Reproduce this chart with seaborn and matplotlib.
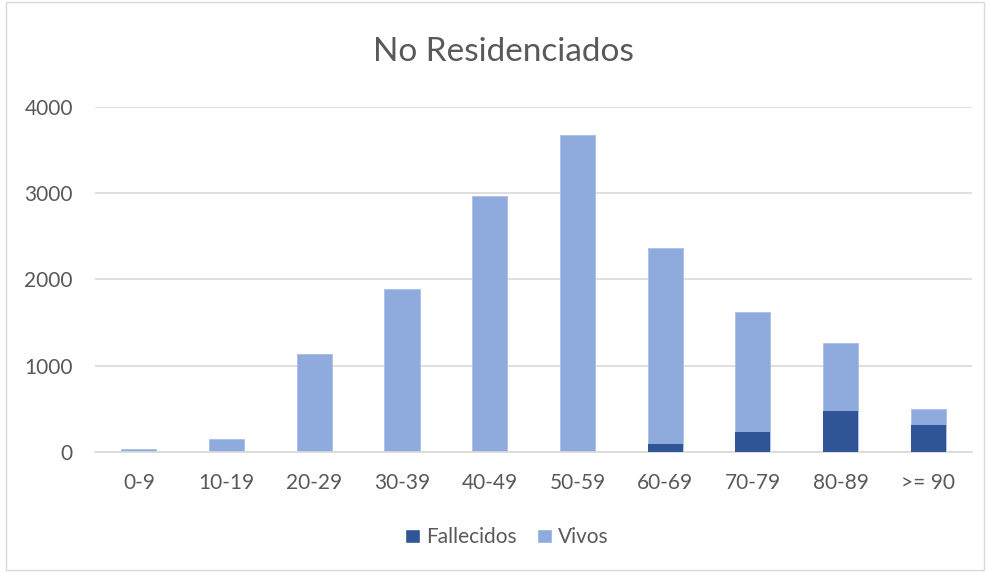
import numpy as np
import pandas as pd
import matplotlib.pyplot as plt
import seaborn as sns
from matplotlib.patches import Rectangle, Patch

# Data
grupos = ['0-9', '10-19', '20-29', '30-39', '40-49', '50-59', '60-69', '70-79', '80-89', '>= 90']
fallecidos = [0, 0, 0, 0, 0, 0, 86, 232, 476, 306]
vivos = [35, 144, 1137, 1887, 2966, 3670, 2274, 1385, 782, 193]

oscuro = '#2F5597'
claro = '#8FAADC'
gris = '#595959'

df = pd.DataFrame({'grupo': grupos, 'Fallecidos': fallecidos, 'Vivos': vivos})
df['total'] = df['Fallecidos'] + df['Vivos']

sns.set_style('white')
plt.rcParams['font.family'] = ['Lato', 'DejaVu Sans']

fig = plt.figure(figsize=(9.9, 5.72), dpi=100)
ax = fig.add_axes([0.096, 0.21, 0.886, 0.603])

# stacked: total (light) first, fallecidos (dark) drawn over the bottom part
sns.barplot(data=df, x='grupo', y='total', color=claro, width=0.4,
            saturation=1, ax=ax, zorder=2, linewidth=0.6, edgecolor='#A9BFE6')
sns.barplot(data=df, x='grupo', y='Fallecidos', color=oscuro, width=0.4,
            saturation=1, ax=ax, zorder=3, linewidth=0)

ax.set_ylim(0, 4000)
ax.set_yticks([0, 1000, 2000, 3000, 4000])
ax.grid(axis='y', color='#D9D9D9', linewidth=1.2, zorder=0)
ax.set_axisbelow(True)
for s in ['top', 'right', 'left']:
    ax.spines[s].set_visible(False)
ax.spines['bottom'].set_color('#D9D9D9')
ax.spines['bottom'].set_linewidth(1.2)
ax.tick_params(axis='both', length=0, labelsize=15, colors=gris)
ax.tick_params(axis='x', pad=15)
ax.tick_params(axis='y', pad=16)
ax.set_xlabel('')
ax.set_ylabel('')
ax.set_xlim(-0.5, len(grupos) - 0.5)

fig.text(0.509, 0.909, 'No Residenciados', ha='center', va='center',
         fontsize=24, color=gris)

handles = [Patch(facecolor=oscuro, label='Fallecidos'), Patch(facecolor=claro, label='Vivos')]
fig.legend(handles=handles, loc='center', bbox_to_anchor=(0.512, 0.061), ncol=2,
           frameon=False, fontsize=15, labelcolor=gris, handlelength=0.7,
           handleheight=0.7, handletextpad=0.3, columnspacing=1.0)

fig.patches.append(Rectangle((0.006, 0.004), 0.988, 0.992, transform=fig.transFigure,
                             fill=False, edgecolor='#D9D9D9', linewidth=1))

fig.savefig('out.png', dpi=100)
